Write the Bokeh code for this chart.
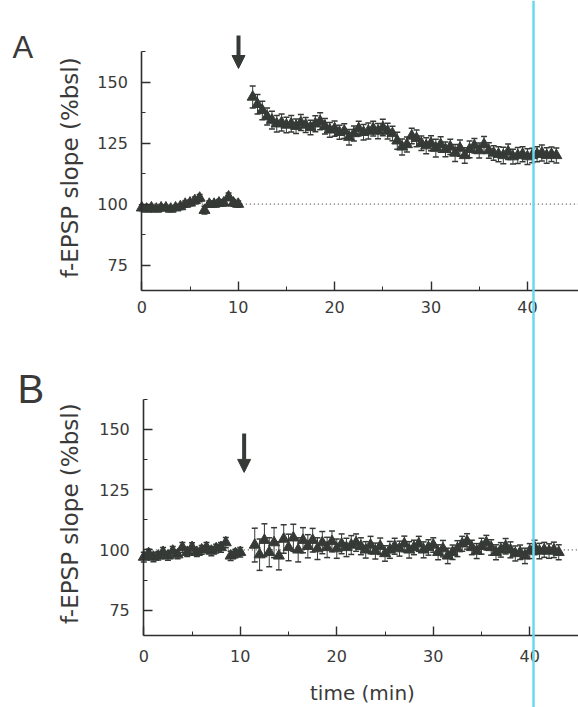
from bokeh.plotting import figure
from bokeh.models import (Range1d, FixedTicker, Whisker, TeeHead, ColumnDataSource,
                          Span, Label, Arrow, NormalHead, LinearAxis)
from bokeh.embed import file_html
from bokeh.resources import INLINE

# ---------------- data ----------------
time_base = [0, 0.5, 1, 1.5, 2, 2.5, 3, 3.5,
             4, 4.5, 5, 5.5, 6, 6.5, 7, 7.5,
             8, 8.5, 9, 9.5, 10]
time_post = [11.5, 12, 12.5, 13, 13.5, 14, 14.5, 15,
             15.5, 16, 16.5, 17, 17.5, 18, 18.5, 19,
             19.5, 20, 20.5, 21, 21.5, 22, 22.5, 23,
             23.5, 24, 24.5, 25, 25.5, 26, 26.5, 27,
             27.5, 28, 28.5, 29, 29.5, 30, 30.5, 31,
             31.5, 32, 32.5, 33, 33.5, 34, 34.5, 35,
             35.5, 36, 36.5, 37, 37.5, 38, 38.5, 39,
             39.5, 40, 40.5, 41, 41.5, 42, 42.5, 43]

a_base = [98.5, 98, 98.5, 98, 98.5, 98.5, 98, 98.5,
          99, 100, 100.5, 101.5, 102.5, 97.5, 100, 100,
          100.5, 100.5, 103, 100.5, 100]
a_base_err = [1.2, 1.0, 1.1, 1.0, 1.2, 1.0, 1.1, 1.0,
              1.2, 1.3, 1.2, 1.4, 1.5, 1.6, 1.3, 1.2,
              1.4, 1.3, 1.6, 1.4, 1.3]
a_post = [144, 141, 138.5, 136, 134.5, 133, 133.5, 132.5,
          133, 132, 133.5, 132.5, 131.5, 133, 134, 132,
          130.5, 131, 129.5, 130, 127.5, 129, 131, 129.5,
          130, 131, 130, 131.5, 130, 129, 126, 123.5,
          124.5, 128, 127, 125, 124, 125, 123, 124.5,
          122.5, 123.5, 121, 123, 120, 122.5, 124, 122,
          124.5, 122, 121, 120.5, 120, 121.5, 119.5, 120,
          120.5, 119.5, 120, 120.5, 121, 120, 120.5, 120]
a_post_err = [4.5, 4.0, 3.8, 3.5, 3.6, 3.4, 3.5, 3.2,
              3.4, 3.0, 3.3, 3.1, 3.0, 3.3, 3.5, 3.2,
              3.0, 3.1, 2.9, 3.0, 3.2, 3.1, 3.0, 3.2,
              3.3, 3.0, 3.1, 3.4, 3.2, 3.0, 3.5, 3.3,
              3.1, 3.2, 3.4, 3.0, 3.3, 3.1, 3.6, 3.2,
              3.0, 3.1, 3.5, 3.3, 3.2, 3.4, 3.0, 3.1,
              3.3, 3.2, 3.0, 3.1, 3.4, 3.2, 3.0, 3.3,
              3.1, 3.2, 3.0, 3.1, 3.3, 3.2, 3.0, 3.1]

b_base = [97, 98.5, 97, 97.5, 99, 97.5, 99.5, 98,
          101, 99, 101, 99, 100, 101, 99.5, 100.5,
          101, 103, 97.5, 98.5, 99]
b_base_err = [2.0, 1.8, 1.9, 1.7, 2.0, 1.8, 1.9, 1.7,
              2.1, 1.8, 1.9, 1.7, 1.8, 2.0, 1.9, 1.8,
              2.0, 2.1, 1.9, 1.8, 2.0]
b_post = [102, 98, 104, 99, 103, 97.5, 104.5, 101,
          105, 100, 104, 101.5, 104, 100.5, 103, 101,
          103.5, 100.5, 102.5, 101, 102, 103, 101.5, 100,
          102, 99.5, 101.5, 98.5, 100, 101.5, 100.5, 102.5,
          100, 101, 102.5, 100, 101, 102, 99, 100.5,
          97.5, 99, 100.5, 102.5, 103.5, 101, 99.5, 101.5,
          103, 101, 99, 100, 101.5, 100, 98.5, 99,
          97.5, 99.5, 101, 99.5, 100, 99.5, 100, 99]
b_post_err = [7.0, 6.5, 6.8, 6.0, 6.2, 5.8, 5.9, 5.5,
              5.6, 5.0, 5.2, 4.8, 4.9, 4.5, 4.6, 4.2,
              4.3, 4.0, 4.1, 3.8, 3.9, 3.6, 3.5, 3.4,
              3.6, 3.3, 3.4, 3.2, 3.5, 3.3, 3.1, 3.2,
              3.4, 3.0, 3.1, 3.3, 3.2, 3.0, 3.1, 3.4,
              3.2, 3.0, 3.3, 3.1, 3.2, 3.0, 3.1, 3.3,
              3.0, 3.2, 3.1, 3.0, 3.2, 3.3, 3.1, 3.0,
              3.2, 3.1, 3.0, 3.2, 3.1, 3.0, 3.2, 3.1]

baseline_level = 100
stim_time_a = 10.03
stim_time_b = 10.4
y_major = [75, 100, 125, 150]
y_minor = [87.5, 112.5, 137.5, 162.5]
x_major = [0, 10, 20, 30, 40]
x_minor = [5, 15, 25, 35]
y_bounds = (64.5, 162.5)
x_bounds = (0, 46)

INK = "#353a36"
AXC = "#2e2e2e"
TXT = "#3a3a3a"
CYAN = "#6ad9ec"

# one canvas, two panels mapped through separate ranges
p = figure(width=578, height=707, output_backend="svg", toolbar_location=None,
           x_range=Range1d(-14.66, 45.30), y_range=Range1d(-106.72, 183.63),
           min_border=0, min_border_left=0, min_border_right=0,
           min_border_top=0, min_border_bottom=0)
p.extra_x_ranges = {"B": Range1d(-14.85, 45.05)}
p.extra_y_ranges = {"B": Range1d(34.67, 327.67)}
p.outline_line_color = None
p.grid.visible = False
p.background_fill_color = "white"
p.border_fill_color = "white"


def style_axis(ax, standoff):
    ax.axis_line_color = AXC
    ax.axis_line_width = 1.6
    ax.major_tick_line_color = AXC
    ax.minor_tick_line_color = AXC
    ax.major_tick_line_width = 1.4
    ax.major_tick_in = 9
    ax.major_tick_out = 0
    ax.minor_tick_in = 4
    ax.minor_tick_out = 0
    ax.major_label_text_font = "DejaVu Sans"
    ax.major_label_text_font_size = "16px"
    ax.major_label_text_color = TXT
    ax.major_label_standoff = standoff


# panel A axes (default axes, pinned inside the canvas)
ya = p.yaxis[0]
ya.ticker = FixedTicker(ticks=y_major, minor_ticks=y_minor)
ya.bounds = y_bounds
ya.fixed_location = 0
style_axis(ya, 14)
xa = p.xaxis[0]
xa.ticker = FixedTicker(ticks=x_major, minor_ticks=x_minor)
xa.bounds = x_bounds
xa.fixed_location = y_bounds[0]
style_axis(xa, 10)

# panel B axes
yb = LinearAxis(x_range_name="B", y_range_name="B",
                ticker=FixedTicker(ticks=y_major, minor_ticks=y_minor),
                bounds=y_bounds, fixed_location=0)
style_axis(yb, 14)
p.add_layout(yb, "left")
xb = LinearAxis(x_range_name="B", y_range_name="B",
                ticker=FixedTicker(ticks=x_major, minor_ticks=x_minor),
                bounds=x_bounds, fixed_location=y_bounds[0])
style_axis(xb, 14)
p.add_layout(xb, "below")


def draw_panel(rn, t_vals, v_vals, e_vals, letter, letter_pos, letter_size,
               ylab_x, arrow_x, arrow_y, x_end):
    kw = {} if rn is None else dict(x_range_name=rn, y_range_name=rn)
    # dotted baseline at 100 %
    p.segment(x0=[t_vals[0]], y0=[baseline_level], x1=[x_end], y1=[baseline_level],
              line_color="#555555", line_dash="1 3", line_width=1.2, **kw)
    src = ColumnDataSource(dict(t=t_vals, v=v_vals,
                                up=[v + e for v, e in zip(v_vals, e_vals)],
                                lo=[v - e for v, e in zip(v_vals, e_vals)]))
    p.add_layout(Whisker(source=src, base="t", upper="up", lower="lo",
                         line_color=INK, line_width=1,
                         upper_head=TeeHead(size=6, line_color=INK, line_width=1.5),
                         lower_head=TeeHead(size=6, line_color=INK, line_width=1.5), **kw))
    p.scatter("t", "v", source=src, marker="triangle", size=11,
              fill_color=INK, line_color=INK, **kw)
    p.add_layout(Label(x=ylab_x, y=115.0, text="f-EPSP slope (%bsl)", angle=1.5708,
                       text_align="center", text_baseline="middle",
                       text_font="DejaVu Sans", text_font_size="23px", text_color=TXT, **kw))
    p.add_layout(Label(x=letter_pos[0], y=letter_pos[1], text=letter,
                       text_align="left", text_baseline="alphabetic",
                       text_font="Liberation Sans", text_font_size=letter_size,
                       text_color=TXT, **kw))
    p.add_layout(Arrow(x_start=arrow_x, y_start=arrow_y[0], x_end=arrow_x, y_end=arrow_y[1],
                       line_color=INK, line_width=4,
                       end=NormalHead(size=13, fill_color=INK, line_color=INK), **kw))


draw_panel(None, time_base + time_post, a_base + a_post, a_base_err + a_post_err,
           "A", (-13.41, 164.3), "31px", -7.40, stim_time_a, (169.3, 155.7), 45.3)
draw_panel("B", time_base + time_post, b_base + b_post, b_base_err + b_post_err,
           "B", (-13.09, 166.87), "40px", -7.60, stim_time_b, (148.2, 132.1), 45.05)

p.add_layout(Label(x=22.66, y=35.6, x_range_name="B", y_range_name="B",
                   text="time (min)", text_align="center", text_baseline="bottom",
                   text_font="DejaVu Sans", text_font_size="20px", text_color=TXT))

# scan artefact: cyan vertical line through the whole figure
p.add_layout(Span(location=40.633, dimension="height", line_color=CYAN, line_width=2.5))

open("out.html", "w").write(file_html(p, INLINE))
